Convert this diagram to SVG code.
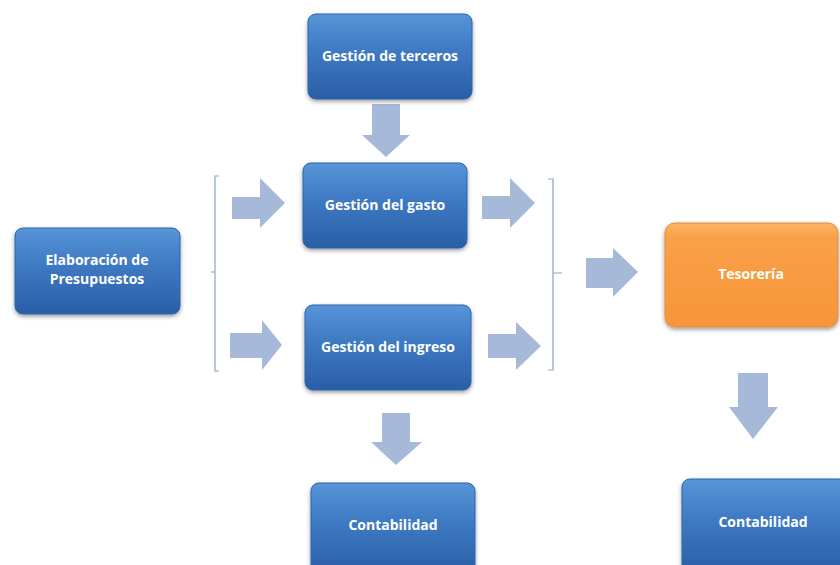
<svg xmlns="http://www.w3.org/2000/svg" width="840" height="565" viewBox="0 0 840 565">
<defs>
<linearGradient id="gb" x1="0" y1="0" x2="0" y2="1">
<stop offset="0" stop-color="#5794d8"/>
<stop offset="0.45" stop-color="#3d79c2"/>
<stop offset="1" stop-color="#2a5ea6"/>
</linearGradient>
<linearGradient id="go" x1="0" y1="0" x2="0" y2="1">
<stop offset="0" stop-color="#fbb565"/>
<stop offset="0.15" stop-color="#f9a048"/>
<stop offset="1" stop-color="#f7963a"/>
</linearGradient>
<filter id="sh" x="-10%" y="-10%" width="120%" height="130%">
<feDropShadow dx="0" dy="2" stdDeviation="2" flood-color="#000" flood-opacity="0.4"/>
</filter>
<style>
.b{fill:url(#gb);stroke:#2c64ad;stroke-width:1;filter:url(#sh)}
.o{fill:url(#go);stroke:#e8893a;stroke-width:1;filter:url(#sh)}
.t{fill:#fff;font-family:"Open Sans","Liberation Sans",sans-serif;font-weight:bold;font-size:14px;text-anchor:middle}
.a{fill:#a7b9d9}
.br{fill:none;stroke:#8ea2c4;stroke-width:1.2}
</style>
</defs>
<rect width="840" height="565" fill="#fff"/>
<g id="connectors">
<polygon class="a" points="372,104 400,104 400,135 410,135 386,157 362,135 372,135"/>
<polygon class="a" points="232,197 260,197 260,178 285,203 260,228 260,219 232,219"/>
<polygon class="a" points="230,333 262,333 262,320 282,345 262,370 262,358 230,358"/>
<polygon class="a" points="482,196 510,196 510,178 535,203 510,228 510,219 482,219"/>
<polygon class="a" points="488,334 516,334 516,322 541,346 516,370 516,358 488,358"/>
<polygon class="a" points="586,258 613,258 613,248 638,272 613,297 613,288 586,288"/>
<polygon class="a" points="382,413 410,413 410,442 422,442 396,465 371,442 382,442"/>
<polygon class="a" points="738,373 768,373 768,407 778,407 753,439 729,407 738,407"/>
<path class="br" d="M219,176 H215 V371 H219 M215,272 H211"/>
<path class="br" d="M548,179 H553 V370 H548 M553,273 H562"/>
</g>
<g id="terceros"><rect class="b" x="308" y="14" width="164" height="85" rx="8"/><text class="t" x="390" y="61">Gestión de terceros</text></g>
<g id="gasto"><rect class="b" x="303" y="163" width="164" height="85" rx="8"/><text class="t" x="385" y="210">Gestión del gasto</text></g>
<g id="presupuestos"><rect class="b" x="15" y="228" width="165" height="86" rx="8"/><text class="t" x="97" y="265">Elaboración  de</text><text class="t" x="97" y="284">Presupuestos</text></g>
<g id="ingreso"><rect class="b" x="305" y="305" width="166" height="85" rx="8"/><text class="t" x="388" y="352">Gestión del ingreso</text></g>
<g id="tesoreria"><rect class="o" x="665" y="223" width="173" height="104" rx="10"/><text class="t" x="751" y="279">Tesorería</text></g>
<g id="contabilidad1"><rect class="b" x="311" y="483" width="164" height="90" rx="8"/><text class="t" x="393" y="530">Contabilidad</text></g>
<g id="contabilidad2"><rect class="b" x="682" y="479" width="165" height="94" rx="8"/><text class="t" x="763" y="527">Contabilidad</text></g>
</svg>
